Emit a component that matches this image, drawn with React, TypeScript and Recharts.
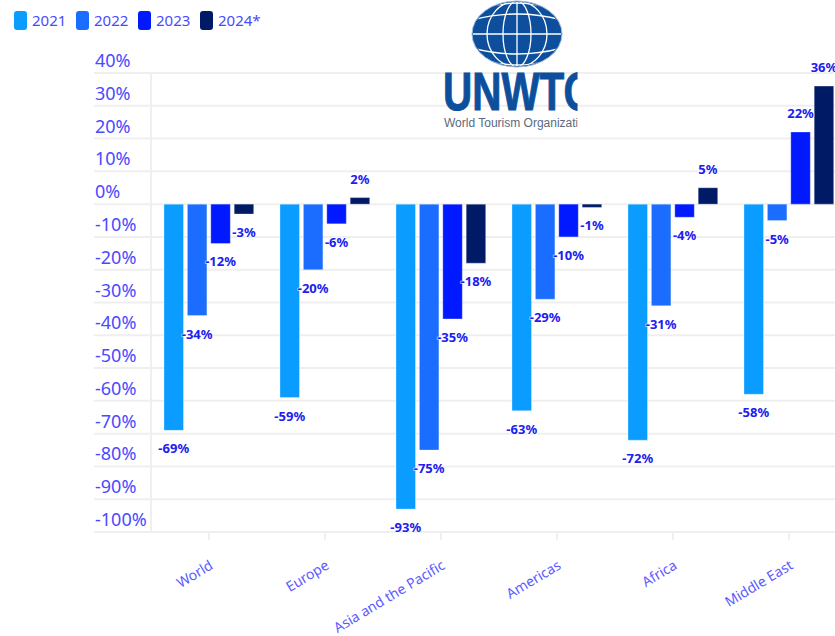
import React from "react";
import { BarChart, Bar, XAxis, YAxis, CartesianGrid, LabelList } from "recharts";

const categories = ["World", "Europe", "Asia and the Pacific", "Americas", "Africa", "Middle East"];
const y2021 = [-69, -59, -93, -63, -72, -58];
const y2022 = [-34, -20, -75, -29, -31, -5];
const y2023 = [-12, -6, -35, -10, -4, 22];
const y2024 = [-3, 2, -18, -1, 5, 36];
const yTicks = [40, 30, 20, 10, 0, -10, -20, -30, -40, -50, -60, -70, -80, -90, -100];
const seriesNames = ["2021", "2022", "2023", "2024*"];
const seriesColors = ["#0a9dff", "#1a6dff", "#0019ff", "#001a66"];
const data = categories.map((name, i) => ({
  name,
  s0: y2021[i],
  s1: y2022[i],
  s2: y2023[i],
  s3: y2024[i],
}));

const TEXT = "#4a4aff";
const GRID = "#efefef";
const FONT = "'Noto Sans', 'Open Sans', sans-serif";

const YTick = (p: any) => (
  <g>
    <line x1={94} x2={151} y1={p.y} y2={p.y} stroke={GRID} strokeWidth={2} />
    <text x={95} y={p.y - 6} fontSize={18} fontFamily={FONT} fill={TEXT}>{`${p.payload.value}%`}</text>
  </g>
);

const XTick = (p: any) => (
  <g>
    <line x1={p.x} x2={p.x} y1={p.y} y2={p.y + 8} stroke={GRID} strokeWidth={2} />
    <text
      x={p.x + 5}
      y={p.y + 36}
      fontSize={14}
      fontFamily={FONT}
      fill={TEXT}
      opacity={0.9}
      textAnchor="end"
      transform={`rotate(-31 ${p.x + 5} ${p.y + 36})`}
    >
      {p.payload.value}
    </text>
  </g>
);

const BarLabel = (p: any) => {
  const { x, y, width, height, value } = p;
  const cx = x + width / 2;
  const top = Math.min(y, y + height);
  const bottom = Math.max(y, y + height);
  const ly = value < 0 ? bottom + 23 : top - 14;
  return (
    <text
      x={cx}
      y={ly}
      textAnchor="middle"
      fontSize={13}
      fontWeight={700}
      fontFamily={FONT}
      fill="#2020ee"
      stroke="#ffffff"
      strokeOpacity={0.7}
      strokeWidth={1.5}
      paintOrder="stroke"
    >{`${value}%`}</text>
  );
};

const Logo = () => (
  <svg width={140} height={135} viewBox="0 0 140 135" style={{ position: "absolute", left: 440, top: 0 }}>
    <defs>
      <clipPath id="logoClip"><rect x={0} y={0} width={137.5} height={135} /></clipPath>
      <clipPath id="globeClip"><ellipse cx={77} cy={34} rx={44} ry={32} /></clipPath>
    </defs>
    <ellipse cx={77} cy={34} rx={45} ry={33} fill="#0d4f9c" stroke="#9db8d8" strokeWidth={1} />
    <g clipPath="url(#globeClip)" fill="none" stroke="#ffffff" strokeWidth={1.3}>
      <line x1={30} x2={124} y1={34} y2={34} />
      <path d="M32 20 Q77 8 122 20" />
      <path d="M32 48 Q77 60 122 48" />
      <path d="M45 8 Q77 -2 109 8" />
      <path d="M45 60 Q77 70 109 60" />
      <line x1={77} x2={77} y1={0} y2={68} />
      <ellipse cx={77} cy={34} rx={14} ry={33} />
      <ellipse cx={77} cy={34} rx={30} ry={33} />
    </g>
    <g clipPath="url(#logoClip)">
      <text x={3} y={110} fontSize={54} fontWeight={700} fontFamily="'Liberation Sans', sans-serif" fill="#0d4f9c" stroke="#0d4f9c" strokeWidth={1} textLength={152} lengthAdjust="spacingAndGlyphs">UNWTO</text>
      <text x={4} y={127} fontSize={12} fontFamily="'Liberation Sans', sans-serif" fill="#5a6a80">World Tourism Organization</text>
    </g>
  </svg>
);

const Legend = () => (
  <div style={{ position: "absolute", left: 14, top: 11, display: "flex", fontFamily: FONT, fontSize: 15, color: TEXT, lineHeight: "19px" }}>
    {seriesNames.map((n, i) => (
      <div key={n} style={{ display: "flex", alignItems: "center", width: i === 3 ? 70 : 62 }}>
        <span style={{ display: "inline-block", width: 13, height: 19, borderRadius: 3, background: seriesColors[i], marginRight: 5 }} />
        <span>{n}</span>
      </div>
    ))}
  </div>
);

export default function App() {
  return (
    <div style={{ position: "fixed", left: 0, top: 0, width: 835, height: 636, overflow: "hidden", background: "#fff" }}>
      <div style={{ position: "absolute", left: 0, top: 0 }}>
        <BarChart
          width={900}
          height={636}
          data={data}
          margin={{ top: 73, right: 53, bottom: 0, left: 0 }}
          barSize={19.5}
          barGap={3.9}
        >
          <CartesianGrid vertical={false} stroke={GRID} strokeWidth={2} />
          <XAxis dataKey="name" axisLine={{ stroke: GRID, strokeWidth: 2 }} tickLine={false} tickSize={0} tickMargin={0} interval={0} height={104} tick={<XTick />} />
          <YAxis domain={[-100, 40]} ticks={yTicks} width={151} axisLine={{ stroke: GRID, strokeWidth: 2 }} tickLine={false} tickSize={0} tickMargin={0} interval={0} tick={<YTick />} />
          {seriesNames.map((n, i) => (
            <Bar key={n} dataKey={`s${i}`} name={n} fill={seriesColors[i]} stroke="#ffffff" strokeOpacity={0.3} isAnimationActive={false}>
              <LabelList dataKey={`s${i}`} content={<BarLabel />} />
            </Bar>
          ))}
        </BarChart>
      </div>
      <Logo />
      <Legend />
    </div>
  );
}
